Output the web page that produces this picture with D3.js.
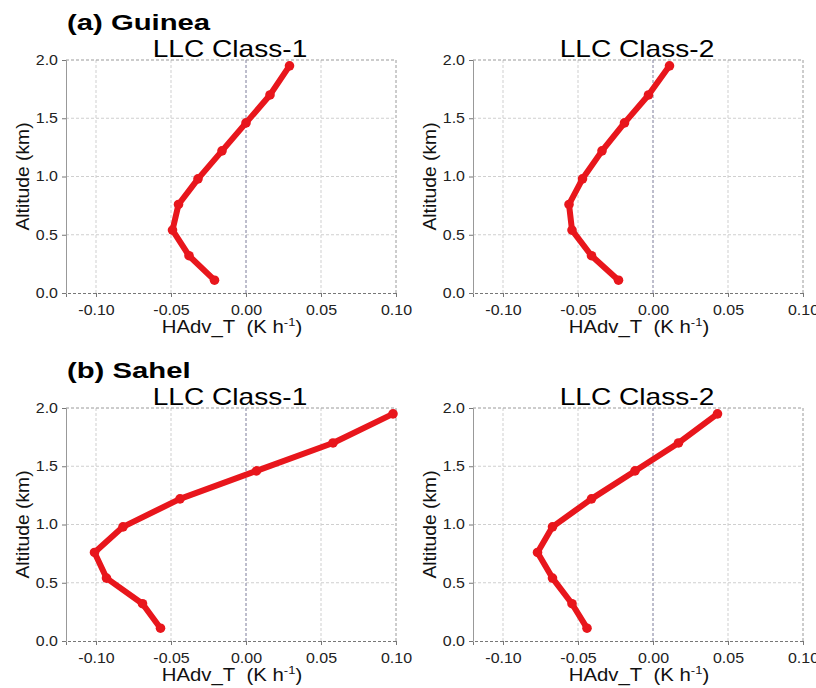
<!DOCTYPE html>
<html>
<head>
<meta charset="utf-8">
<script src="https://cdn.jsdelivr.net/npm/d3@7"></script>
<style>
  html, body { margin: 0; padding: 0; background: #fff; }
  svg { display: block; font-family: "Liberation Sans", Arial, sans-serif; }
  .tick text { fill: #222; font-size: 14px; }
</style>
</head>
<body>
<svg id="chart" width="816" height="688"></svg>
<script>
// Altitude levels (km), shared by all profiles
const altitudes = [0.11, 0.32, 0.54, 0.76, 0.98, 1.22, 1.46, 1.70, 1.95];

// HAdv_T (K h-1) profiles
const guineaClass1 = [-0.021, -0.038, -0.049, -0.045, -0.032, -0.016, 0.000, 0.016, 0.029];
const guineaClass2 = [-0.023, -0.041, -0.054, -0.056, -0.047, -0.034, -0.019, -0.003, 0.011];
const sahelClass1  = [-0.057, -0.069, -0.093, -0.101, -0.082, -0.044, 0.007, 0.058, 0.098];
const sahelClass2  = [-0.044, -0.054, -0.067, -0.077, -0.067, -0.041, -0.012, 0.017, 0.043];

const xTicks = [-0.10, -0.05, 0.00, 0.05, 0.10];
const yTicks = [0.0, 0.5, 1.0, 1.5, 2.0];
const xDomain = [-0.12, 0.10];
const yDomain = [0, 2];

const W = 330, H = 233;
const RED = '#e8161c';

const svg = d3.select('#chart');

const panels = [
  { left: 66,  top: 60,  values: guineaClass1, title: 'LLC Class-1' },
  { left: 473, top: 60,  values: guineaClass2, title: 'LLC Class-2' },
  { left: 66,  top: 408, values: sahelClass1,  title: 'LLC Class-1' },
  { left: 473, top: 408, values: sahelClass2,  title: 'LLC Class-2' }
];

// the source figure's lettering is wider than Arial; widen text by a factor
function stretch(sel, k) {
  sel.each(function() {
    const w = this.getComputedTextLength();
    d3.select(this).attr('textLength', w * k).attr('lengthAdjust', 'spacingAndGlyphs');
  });
}

// Region headings
svg.append('text').attr('x', 67).attr('y', 29.5)
  .attr('font-size', 22).attr('font-weight', 'bold').text('(a) Guinea')
  .call(stretch, 1.33);
svg.append('text').attr('x', 67).attr('y', 377.5)
  .attr('font-size', 22).attr('font-weight', 'bold').text('(b) Sahel')
  .call(stretch, 1.33);

panels.forEach(p => drawPanel(p));

function drawPanel(p) {
  const g = svg.append('g').attr('transform', `translate(${p.left},${p.top})`);
  const x = d3.scaleLinear().domain(xDomain).range([0, W]);
  const y = d3.scaleLinear().domain(yDomain).range([H, 0]);

  // Gridlines
  g.append('g').selectAll('line')
    .data(xTicks.filter(t => t !== 0 && t < 0.1))
    .join('line')
      .attr('x1', d => x(d)).attr('x2', d => x(d))
      .attr('y1', 0).attr('y2', H)
      .attr('stroke', '#cfcfcf').attr('stroke-dasharray', '3,2');
  g.append('g').selectAll('line')
    .data(yTicks.filter(t => t > 0 && t < 2))
    .join('line')
      .attr('x1', 0).attr('x2', W)
      .attr('y1', d => y(d)).attr('y2', d => y(d))
      .attr('stroke', '#cfcfcf').attr('stroke-dasharray', '3,2');

  // Zero line
  g.append('line')
    .attr('x1', x(0)).attr('x2', x(0)).attr('y1', 0).attr('y2', H)
    .attr('stroke', '#7d7d9a').attr('stroke-dasharray', '3,2');

  // Top / right frame
  g.append('path')
    .attr('d', `M0,0H${W}V${H}`)
    .attr('fill', 'none').attr('stroke', '#9a9a9a').attr('stroke-dasharray', '3,2');

  // Axes
  g.append('g')
    .attr('transform', `translate(0,${H})`)
    .call(d3.axisBottom(x).tickValues(xTicks).tickSize(4).tickPadding(8))
    .call(a => a.select('.domain').attr('stroke', '#777').attr('stroke-dasharray', '3,2'))
    .call(a => a.selectAll('.tick line').attr('stroke', '#777'))
    .call(a => a.selectAll('.tick text').text(d => d3.format('.2f')(d).replace('−', '-')).call(stretch, 1.14));

  g.append('g')
    .call(d3.axisLeft(y).tickValues(yTicks).tickFormat(d3.format('.1f')).tickSize(4).tickPadding(4))
    .call(a => a.select('.domain').attr('stroke', '#999'))
    .call(a => a.selectAll('.tick line').attr('stroke', '#777'))
    .call(a => a.selectAll('.tick text').call(stretch, 1.14));

  // Titles and axis labels
  g.append('text')
    .attr('x', W / 2 - 1).attr('y', -3)
    .attr('text-anchor', 'middle').attr('font-size', 24)
    .text(p.title)
    .call(stretch, 1.17);

  g.append('text')
    .attr('transform', `translate(-43,${H / 2}) rotate(-90)`)
    .attr('text-anchor', 'middle').attr('dy', '0.35em')
    .attr('font-size', 18).attr('fill', '#111')
    .text('Altitude (km)')
    .call(stretch, 1.07);

  const xl = g.append('text')
    .attr('x', W / 2 + 1).attr('y', H + 40)
    .attr('text-anchor', 'middle').attr('font-size', 18).attr('fill', '#111');
  xl.append('tspan').text('HAdv_T\u00a0 (K h');
  xl.append('tspan').attr('font-size', 11.5).attr('dy', -7).text('-1');
  xl.append('tspan').attr('dy', 7).text(')');
  xl.call(stretch, 1.13);

  // Profile
  const pts = altitudes.map((a, i) => ({ alt: a, v: p.values[i] }));
  g.append('path')
    .datum(pts)
    .attr('d', d3.line().x(d => x(d.v)).y(d => y(d.alt)))
    .attr('fill', 'none').attr('stroke', RED)
    .attr('stroke-width', 6).attr('stroke-linejoin', 'round');
  g.append('g').selectAll('circle')
    .data(pts)
    .join('circle')
      .attr('cx', d => x(d.v)).attr('cy', d => y(d.alt))
      .attr('r', 4.8).attr('fill', RED);
}
</script>
</body>
</html>
